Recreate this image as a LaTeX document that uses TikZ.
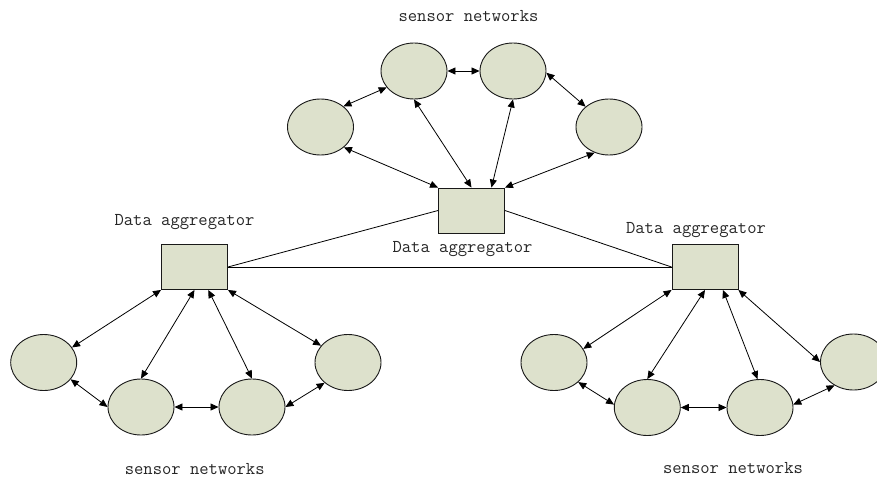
\documentclass[tikz,border=0pt]{standalone}
\usepackage{fontspec}
\usetikzlibrary{shapes.geometric,arrows.meta}
\definecolor{nodefill}{RGB}{221,225,204}
\begin{document}
\begin{tikzpicture}[x=1pt,y=-1pt,
  sensor/.style={ellipse,draw=black!90,fill=nodefill,line width=0.9pt,
                 minimum width=66pt,minimum height=56pt,inner sep=0pt},
  aggbox/.style={rectangle,draw=black!90,fill=nodefill,line width=0.9pt,
                 minimum width=66pt,minimum height=45pt,inner sep=0pt},
  lbl/.style={font=\ttfamily\fontsize{18.1}{20}\selectfont,text=black!85,inner sep=0pt},
  link/.style={line width=0.8pt,{Triangle[length=8pt,width=7pt]}-{Triangle[length=8pt,width=7pt]}},
  wire/.style={line width=0.8pt}]
\useasboundingbox (0,0) rectangle (877,479);
\clip (0,0) rectangle (877,479);

% aggregators
\node[aggbox] (T) at (471.5,210.5) {};
\node[aggbox] (L) at (194.5,267) {};
\node[aggbox] (R) at (705,267) {};

% backbone between aggregators
\draw[wire] (L.east) -- (T.west);
\draw[wire] (L.east) -- (R.west);
\draw[wire] (T.east) -- (R.west);

% top sensor network
\node[sensor] (ta) at (414,71) {};
\node[sensor] (tb) at (513,71) {};
\node[sensor] (tc) at (320.5,127) {};
\node[sensor] (td) at (609,127) {};

\draw[link] (tc.42) -- (ta.-149);
\draw[link] (ta.east) -- (tb.west);
\draw[link] (tb.-3) -- (td.139);
\draw[link] (tc.-41) -- (T.north west);
\draw[link] (ta.south) -- (T.north);
\draw[link] (tb.south) -- (T.49);
\draw[link] (td.-119) -- (T.north east);

% left sensor network
\node[sensor] (le) at (43.7,362.5) {};
\node[sensor] (lf) at (141,407) {};
\node[sensor] (lg) at (252,407) {};
\node[sensor] (lh) at (348,362.5) {};

\draw[link] (L.south west) -- (le.28);
\draw[link] (L.south) -- (lf.north);
\draw[link] (L.-59) -- (lg.north);
\draw[link] (L.south east) -- (lh.148);
\draw[link] (le.-32) -- (lf.west);
\draw[link] (lf.east) -- (lg.west);
\draw[link] (lg.east) -- (lh.-139);

% right sensor network
\node[sensor] (re) at (554,362.5) {};
\node[sensor] (rf) at (647.3,407.5) {};
\node[sensor] (rg) at (760,407.5) {};
\node[sensor] (rh) at (853.5,362) {};

\draw[link] (R.south west) -- (re.25);
\draw[link] (R.south) -- (rf.north);
\draw[link] (R.-52) -- (rg.95);
\draw[link] (R.south east) -- (rh.west);
\draw[link] (re.-39) -- (rf.175);
\draw[link] (rf.east) -- (rg.west);
\draw[link] (rg.5) -- (rh.-129);

% labels
\node[lbl] (tnet) at (468.5,16) {sensor networks};
\node[lbl] (tagg) at (462.5,249) {Data aggregator};
\node[lbl] (lagg) at (184.5,222) {Data aggregator};
\node[lbl] (ragg) at (696,230) {Data aggregator};
\node[lbl] (lnet) at (194.7,469.3) {sensor networks};
\node[lbl] (rnet) at (733,468.3) {sensor networks};
\end{tikzpicture}
\end{document}
